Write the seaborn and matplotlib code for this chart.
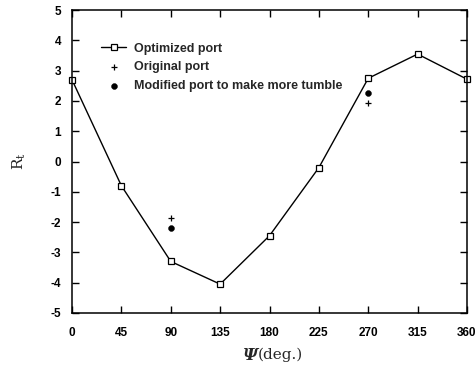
import matplotlib
matplotlib.use("Agg")
import matplotlib.pyplot as plt
import seaborn as sns
import pandas as pd

psi = [0, 45, 90, 135, 180, 225, 270, 315, 360]
optimized = [2.7, -0.8, -3.3, -4.05, -2.45, -0.2, 2.75, 3.55, 2.72]
psi_other = [90, 270]
original = [-1.85, 1.95]
modified = [-2.18, 2.27]
xticks = [0, 45, 90, 135, 180, 225, 270, 315, 360]
yticks = [-5, -4, -3, -2, -1, 0, 1, 2, 3, 4, 5]

sns.set_style("ticks")
plt.rcParams['font.family'] = ['Liberation Sans', 'DejaVu Sans']
plt.rcParams['axes.unicode_minus'] = False
plt.rcParams['mathtext.fontset'] = 'dejavuserif'

fig = plt.figure(figsize=(4.77, 3.77), dpi=100)
ax = fig.add_axes([0.151, 0.170, 0.828, 0.803])

df_opt = pd.DataFrame({"psi": psi, "R": optimized})
df_orig = pd.DataFrame({"psi": psi_other, "R": original})
df_mod = pd.DataFrame({"psi": psi_other, "R": modified})

sns.lineplot(data=df_opt, x="psi", y="R", ax=ax, color="black", lw=1.0,
             marker="s", markersize=4, markerfacecolor="white",
             markeredgecolor="black", markeredgewidth=0.9,
             label="Optimized port", clip_on=False)
sns.scatterplot(data=df_orig, x="psi", y="R", ax=ax, marker="+", s=25,
                color="black", linewidth=0.9, label="Original port")
sns.scatterplot(data=df_mod, x="psi", y="R", ax=ax, marker="o", s=18,
                color="black", edgecolor="black", label="Modified port to make more tumble")

ax.set_xlim(0, 360)
ax.set_ylim(-5, 5)
ax.set_xticks(xticks)
ax.set_yticks(yticks)
ax.tick_params(direction="in", length=5, width=1.0, top=True, right=True,
               labelsize=8.5, colors="black")
ax.tick_params(axis="x", pad=10)
ax.tick_params(axis="y", pad=8)
for lab in ax.get_xticklabels() + ax.get_yticklabels():
    lab.set_fontweight("bold")
for s in ax.spines.values():
    s.set_visible(True)
    s.set_linewidth(1.1)
    s.set_color("black")

ax.set_xlabel("")
fig.text(0.541, 0.058, "Ψ", family="DejaVu Serif", fontstyle="italic",
         fontweight="bold", fontsize=12, ha="right", va="center")
fig.text(0.541, 0.058, "(deg.)", family="DejaVu Serif", fontsize=11,
         ha="left", va="center")
ax.set_ylabel(r"R$_\mathrm{t}$", family="DejaVu Serif", fontsize=11, labelpad=16)

leg = ax.legend(loc="upper left", bbox_to_anchor=(0.055, 0.918), frameon=False,
                fontsize=9, handlelength=2.0, handletextpad=0.6,
                labelspacing=0.55, borderaxespad=0.2)
for t in leg.get_texts():
    t.set_fontweight("bold")

fig.savefig("out.png", dpi=100)
